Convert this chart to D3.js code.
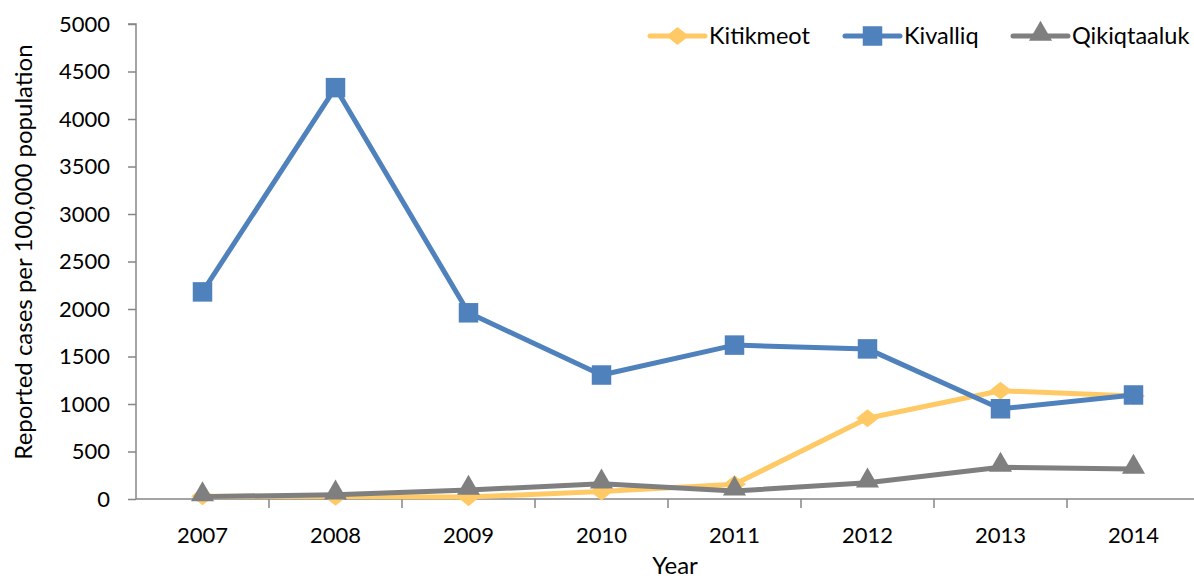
<!DOCTYPE html>
<html>
<head>
<meta charset="utf-8">
<script src="https://cdn.jsdelivr.net/npm/d3@7"></script>
<style>
  html, body { margin: 0; padding: 0; background: #fff; }
  svg { display: block; }
  text { font-family: Lato, "Open Sans", sans-serif; fill: #000; }
</style>
</head>
<body>
<svg id="chart" width="1194" height="580"></svg>
<script>
// Reported cases per 100,000 population by region, 2007–2014
const years = ["2007", "2008", "2009", "2010", "2011", "2012", "2013", "2014"];
const kitikmeot   = [30, 25, 20, 80, 155, 850, 1140, 1085];
const kivalliq    = [2180, 4330, 1960, 1305, 1620, 1580, 950, 1095];
const qikiqtaaluk = [25, 45, 95, 160, 85, 170, 335, 315];
const yTicks = [0, 500, 1000, 1500, 2000, 2500, 3000, 3500, 4000, 4500, 5000];

const seriesList = [
  { name: "Kitikmeot",   values: kitikmeot,   color: "#FFCA66", marker: "diamond" },
  { name: "Kivalliq",    values: kivalliq,    color: "#4F81BD", marker: "square" },
  { name: "Qikiqtaaluk", values: qikiqtaaluk, color: "#7F7F7F", marker: "triangle" }
];

const svg = d3.select("#chart");
const plotLeft = 136, plotRight = 1200, plotTop = 24, plotBottom = 499;
const axisColor = "#868686";
const tickFont = 22, titleFont = 24, legendFont = 23.5;

const x = d3.scaleBand().domain(years).range([plotLeft, plotRight]).padding(0);
const y = d3.scaleLinear().domain([0, 5000]).range([plotBottom, plotTop]);
const cx = d => x(d) + x.bandwidth() / 2;

// y axis
const yAxis = svg.append("g")
  .attr("transform", `translate(${plotLeft},0)`)
  .call(d3.axisLeft(y).tickValues(yTicks).tickSize(8).tickPadding(18).tickFormat(d3.format("d")));
yAxis.selectAll("line").attr("stroke", axisColor).attr("stroke-width", 1.5);
yAxis.select(".domain").attr("stroke", axisColor).attr("stroke-width", 1.5).attr("d", `M-8,${plotTop}H0V${plotBottom}`);
yAxis.selectAll("text").attr("font-size", tickFont).attr("font-family", "Lato, sans-serif").attr("fill", "#000");

// x axis: labels centred in each band, ticks at band boundaries
const xAxis = svg.append("g")
  .attr("transform", `translate(0,${plotBottom})`)
  .call(d3.axisBottom(x).tickSize(0).tickPadding(28));
xAxis.select(".domain").attr("stroke", axisColor).attr("stroke-width", 1.5).attr("d", `M${plotLeft},0H${plotRight}`);
xAxis.selectAll("text").attr("font-size", tickFont).attr("font-family", "Lato, sans-serif").attr("fill", "#000");
xAxis.selectAll("line.boundary")
  .data(years.slice(1).concat(["end"]))
  .enter().append("line")
  .attr("class", "boundary")
  .attr("x1", d => d === "end" ? plotRight : x(d))
  .attr("x2", d => d === "end" ? plotRight : x(d))
  .attr("y1", 0).attr("y2", 9)
  .attr("stroke", axisColor).attr("stroke-width", 1.5);

// axis titles
svg.append("text")
  .attr("transform", `translate(32,252) rotate(-90)`)
  .attr("text-anchor", "middle")
  .attr("font-size", titleFont)
  .text("Reported cases per 100,000 population");

svg.append("text")
  .attr("x", 675)
  .attr("y", 574)
  .attr("text-anchor", "middle")
  .attr("font-size", titleFont)
  .text("Year");

// marker shapes
const markerPath = {
  diamond: d3.symbol().type(d3.symbolDiamond2).size(210),
  square: d3.symbol().type(d3.symbolSquare).size(380),
  triangle: d3.symbol().type(d3.symbolTriangle).size(230)
};

const line = d3.line().x(d => cx(d.year)).y(d => y(d.value));

seriesList.forEach(s => {
  const pts = years.map((yr, i) => ({ year: yr, value: s.values[i] }));
  const g = svg.append("g");
  g.append("path")
    .datum(pts)
    .attr("d", line)
    .attr("fill", "none")
    .attr("stroke", s.color)
    .attr("stroke-width", 5)
    .attr("stroke-linejoin", "round");
  g.selectAll("path.mk")
    .data(pts)
    .enter().append("path")
    .attr("class", "mk")
    .attr("d", markerPath[s.marker])
    .attr("transform", d => {
      const dy = s.marker === "triangle" ? -2 : 0;
      const rot = s.marker === "diamond" ? " scale(1.25,1)" : "";
      return `translate(${cx(d.year)},${y(d.value) + dy})${rot}`;
    })
    .attr("fill", s.color);
});

// legend
const legendItems = [
  { s: seriesList[0], lx: 650 },
  { s: seriesList[1], lx: 845 },
  { s: seriesList[2], lx: 1013 }
];
const ly = 36;
legendItems.forEach(({ s, lx }) => {
  const g = svg.append("g");
  g.append("line")
    .attr("x1", lx).attr("x2", lx + 55)
    .attr("y1", ly).attr("y2", ly)
    .attr("stroke", s.color).attr("stroke-width", 5).attr("stroke-linecap", "round");
  g.append("path")
    .attr("d", markerPath[s.marker])
    .attr("transform", `translate(${lx + 27.5},${ly + (s.marker === "triangle" ? -2 : 0)})${s.marker === "diamond" ? " scale(1.25,1)" : ""}`)
    .attr("fill", s.color);
  g.append("text")
    .attr("x", lx + 59)
    .attr("y", ly + 8)
    .attr("font-size", legendFont)
    .text(s.name);
});
</script>
</body>
</html>
